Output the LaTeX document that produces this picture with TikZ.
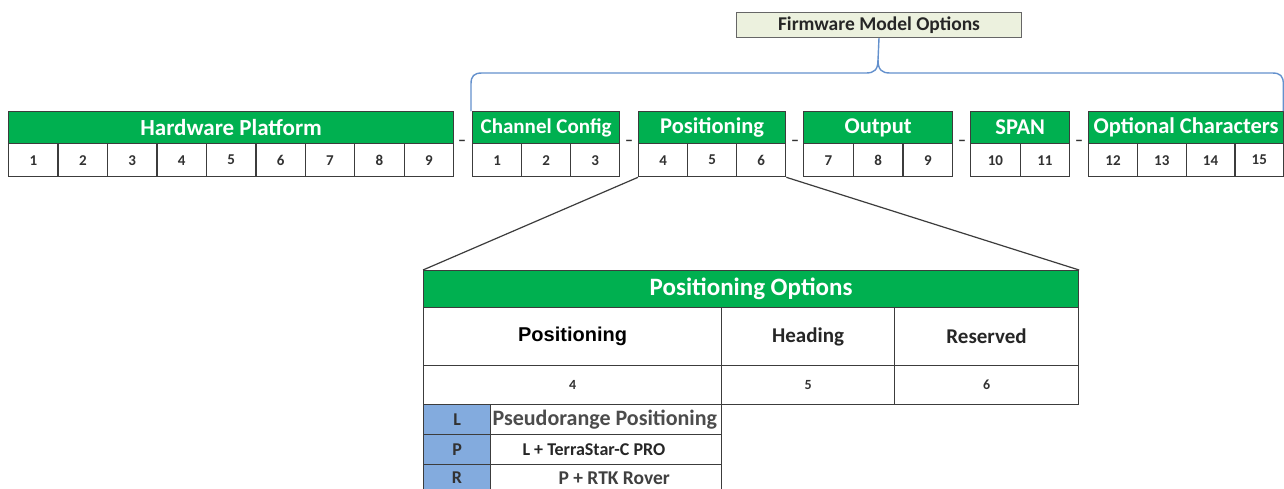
\documentclass[tikz,border=0pt]{standalone}
\usepackage{fontspec}
\setmainfont{Carlito}
\newfontfamily\arialfont{Liberation Sans}
\definecolor{xgreen}{RGB}{0,176,80}
\definecolor{xblue}{RGB}{131,171,222}
\definecolor{bord}{RGB}{60,60,60}
\definecolor{bracecol}{RGB}{100,145,205}
\definecolor{fmfill}{RGB}{236,241,222}
\definecolor{numcol}{RGB}{50,50,50}
\newcommand\fieldgroup[7]{%
  \pgfmathsetmacro\gw{#3-#2}%
  \node[hdr, minimum width=\gw pt, font=\bfseries\fontsize{#7}{#7}\selectfont] (#1) at (#2,111) {#4};%
  \pgfmathsetmacro\cw{\gw/#5}%
  \foreach \k in {1,...,#5}{%
    \pgfmathtruncatemacro\num{#6+\k-1}%
    \node[cellbox, minimum width=\cw pt] (#1-\k) at ({#2+(\k-1)*\cw},143) {\num};%
  }%
}
\begin{document}
\begin{tikzpicture}[x=1pt,y=-1pt,
  hdr/.style={draw=bord, line width=1.3pt, fill=xgreen, text=white,
    inner sep=0pt, anchor=north west, minimum height=32pt},
  cellbox/.style={draw=bord, line width=1.3pt, fill=white, text=numcol,
    font=\bfseries\fontsize{15}{15}\selectfont, inner sep=0pt,
    anchor=north west, minimum height=33pt},
  sep/.style={text=numcol, font=\bfseries\fontsize{16}{16}\selectfont, inner sep=0pt},
  tcell/.style={draw=bord, line width=1.1pt, fill=white, inner sep=0pt, anchor=north west},
  bluecell/.style={draw=bord, line width=1.1pt, fill=xblue, inner sep=0pt, anchor=north west,
    text=numcol, font=\bfseries\fontsize{18}{18}\selectfont},
  bracepath/.style={draw=bracecol, line width=1.4pt},
  fanline/.style={draw=bord, line width=1.2pt}
]
\clip (0,0) rectangle (1284,488);
\fill[white] (0,0) rectangle (1284,488);

% Firmware model options box
\node[draw=gray!80!black, line width=1pt, fill=fmfill, inner sep=0pt, anchor=north west,
  minimum width=285pt, minimum height=25pt, text=black!85,
  font=\bfseries\fontsize{19.5}{19.5}\selectfont] (fmo) at (736,12) {Firmware Model Options};

% field groups
\fieldgroup{hw}{8}{453}{Hardware Platform}{9}{1}{23}
\fieldgroup{cc}{472}{619}{Channel Config}{3}{1}{21}
\fieldgroup{pos}{638}{785}{Positioning}{3}{4}{22.5}
\fieldgroup{out}{803}{952}{Output}{3}{7}{22.5}
\fieldgroup{span}{970}{1069}{SPAN}{2}{10}{22.5}
\fieldgroup{opt}{1088}{1283}{Optional Characters}{4}{12}{22.5}

% separators
\node[sep] (d1) at (462,143) {--};
\node[sep] (d2) at (629,143) {--};
\node[sep] (d3) at (795,143) {--};
\node[sep] (d4) at (962,143) {--};
\node[sep] (d5) at (1079,143) {--};

% brace
\path (cc.north west) ++(-1,0) coordinate (bl)
  (opt.north east) ++(-1,0) coordinate (br);
\draw[bracepath] (bl) -- ++(0,-27) .. controls ++(0,-8) and ++(-8,0) .. ++(11,-11)
  -- (866,73) .. controls (874,73) and (878,70) .. (878,60) -- (fmo.south);
\draw[bracepath] (br) -- ++(0,-27) .. controls ++(0,-8) and ++(8,0) .. ++(-11,-11)
  -- (890,73) .. controls (882,73) and (878,70) .. (878,60);

% table
\node[hdr, line width=1.1pt, minimum width=655pt, minimum height=37pt,
  font=\bfseries\fontsize{25}{25}\selectfont] (popt) at (423,270) {Positioning Options};
\node[tcell, minimum width=298pt, minimum height=58pt,
  font=\arialfont\bfseries\fontsize{20}{20}\selectfont] (tpos) at (423,307) {Positioning};
\node[tcell, minimum width=173pt, minimum height=58pt,
  font=\bfseries\fontsize{21}{21}\selectfont, text=black!85] (thead) at (721,307) {Heading};
\node[tcell, minimum width=184pt, minimum height=58pt,
  font=\bfseries\fontsize{21}{21}\selectfont, text=black!85] (tres) at (894,307) {Reserved};
\node[tcell, minimum width=298pt, minimum height=39pt,
  font=\bfseries\fontsize{14}{14}\selectfont, text=numcol] (t4) at (423,365) {4};
\node[tcell, minimum width=173pt, minimum height=39pt,
  font=\bfseries\fontsize{14}{14}\selectfont, text=numcol] (t5) at (721,365) {5};
\node[tcell, minimum width=184pt, minimum height=39pt,
  font=\bfseries\fontsize{14}{14}\selectfont, text=numcol] (t6) at (894,365) {6};

\node[bluecell, minimum width=67pt, minimum height=30pt] (kL) at (423,404) {L};
\node[tcell, minimum width=231pt, minimum height=30pt, text=black!70,
  font=\bfseries\fontsize{22}{22}\selectfont] (vL) at (490,404)
  {\makebox[231pt][l]{\hspace{2pt}Pseudorange Positioning}};
\node[bluecell, minimum width=67pt, minimum height=30pt] (kP) at (423,434) {P};
\node[tcell, minimum width=231pt, minimum height=30pt, text=black!85,
  font=\bfseries\fontsize{18}{18}\selectfont] (vP) at (490,434)
  {\makebox[231pt][l]{\hspace{32pt}L + TerraStar-C PRO}};
\node[bluecell, minimum width=67pt, minimum height=30pt] (kR) at (423,464) {\raisebox{3pt}{R}};
\node[tcell, minimum width=231pt, minimum height=30pt, text=black!75,
  font=\bfseries\fontsize{19.5}{19.5}\selectfont] (vR) at (490,464)
  {\makebox[231pt][l]{\hspace{68pt}\raisebox{3pt}{P + RTK Rover}}};

% fan lines
\draw[fanline] (pos-1.south west) -- (popt.north west);
\draw[fanline] (pos-3.south east) -- (popt.north east);
\end{tikzpicture}
\end{document}
